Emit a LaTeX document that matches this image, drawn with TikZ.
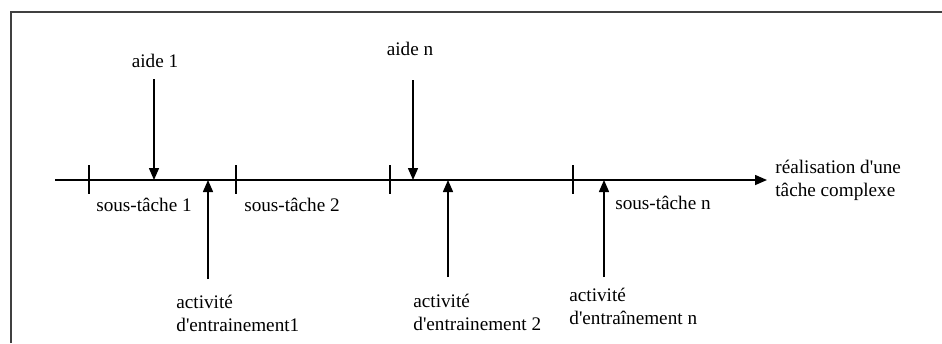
\documentclass[tikz,border=0pt]{standalone}
\usepackage{fontspec}
\setmainfont{Liberation Serif}
\usetikzlibrary{arrows.meta}
\begin{document}
\begin{tikzpicture}[x=0.5pt,y=-0.5pt,
  lbl/.style={inner sep=0pt,font=\fontsize{9.6pt}{11.5pt}\selectfont,align=left},
  axisline/.style={line width=0.75pt,-{Triangle[length=6pt,width=5pt]}},
  arr/.style={line width=0.75pt,-{Triangle[length=6pt,width=5pt]}},
  tick/.style={line width=0.75pt},
  frame/.style={line width=1.1pt,draw=black!75}]
\useasboundingbox (0,0) rectangle (942,343);
% frame
\coordinate (fbl) at (11,343);
\coordinate (ftl) at (11,12);
\coordinate (ftr) at (942,12);
\draw[frame] (fbl) -- (ftl) -- (ftr);
% axis
\coordinate (ax0) at (55,180);
\coordinate (ax1) at (767,180);
\draw[axisline] (ax0) -- (ax1);
% ticks
\foreach \x/\n in {89/t1,236/t2,390/t3,573/t4}{
  \coordinate (\n a) at (\x,165);
  \coordinate (\n b) at (\x,194);
  \draw[tick] (\n a) -- (\n b);
}
% labels
\node[lbl] (a1) at (155,61) {aide 1};
\node[lbl] (an) at (410,49) {aide n};
\node[lbl] (s1) at (144,205) {sous-tâche 1};
\node[lbl] (s2) at (292,205) {sous-tâche 2};
\node[lbl] (sn) at (663,203) {sous-tâche n};
\node[lbl,anchor=west] (e1) at (176,313) {activité\\d\textquotesingle entrainement1};
\node[lbl,anchor=west] (e2) at (413,312) {activité\\d\textquotesingle entrainement 2};
\node[lbl,anchor=west] (en) at (569,306) {activité\\d\textquotesingle entraînement n};
\node[lbl,anchor=west] (goal) at (775,180) {réalisation d\textquotesingle une\\tâche complexe};
% arrow endpoints
\coordinate (a1s) at (154,79);  \coordinate (a1e) at (154,180);
\coordinate (ans) at (413,80);  \coordinate (ane) at (413,180);
\coordinate (e1s) at (208,279); \coordinate (e1e) at (208,180);
\coordinate (e2s) at (448,277); \coordinate (e2e) at (448,180);
\coordinate (ens) at (604,277); \coordinate (ene) at (604,180);
\draw[arr] (a1s) -- (a1e);
\draw[arr] (ans) -- (ane);
\draw[arr] (e1s) -- (e1e);
\draw[arr] (e2s) -- (e2e);
\draw[arr] (ens) -- (ene);
\end{tikzpicture}
\end{document}
